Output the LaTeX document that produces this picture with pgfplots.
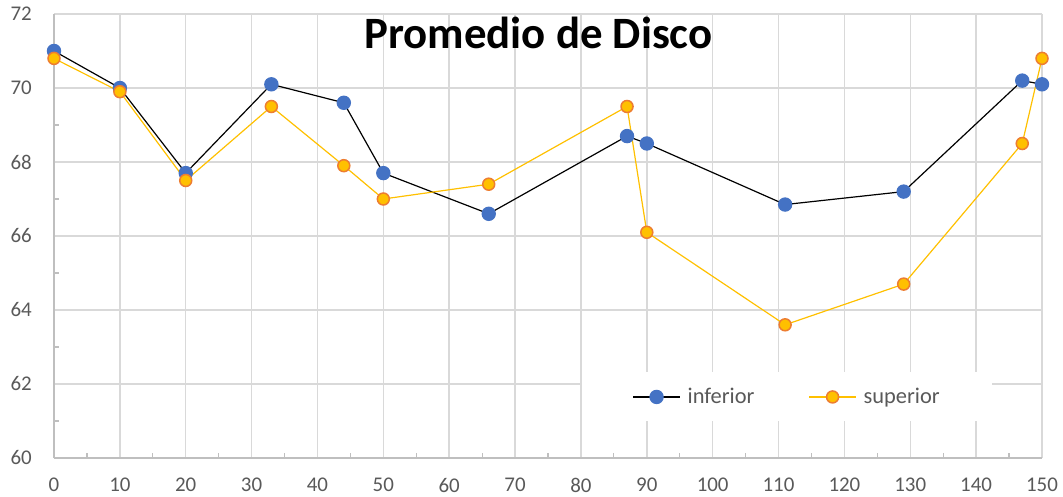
\documentclass[border=0pt]{standalone}
\usepackage{fontspec}
\setmainfont{Carlito}
\usepackage{pgfplots}
\pgfplotsset{compat=1.18}
\definecolor{blueM}{HTML}{4472C4}
\definecolor{goldL}{HTML}{FFC000}
\definecolor{orangeE}{HTML}{ED7D31}
\definecolor{gridc}{HTML}{D9D9D9}
\definecolor{axc}{HTML}{BFBFBF}
\definecolor{txt}{HTML}{595959}
\begin{document}
\begin{tikzpicture}
\begin{axis}[name=ax, at={(0,0)}, anchor=south west,
 scale only axis, width=988bp, height=444bp,
 xmin=0,xmax=150,ymin=60,ymax=72,
 xtick={0,10,...,150}, ytick={60,62,...,72},
 minor x tick num=1, minor y tick num=1,
 grid=major, major grid style={gridc, line width=1.5bp},
 axis x line*=bottom, axis y line*=left,
 axis line style={axc, line width=1.5bp, -},
 tick align=inside, major tick length=0pt, minor tick length=5bp,
 minor tick style={axc, line width=1.2bp},
 tick label style={font=\fontsize{21}{24}\selectfont, text=txt},
 /pgf/number format/assume math mode=true,
 xticklabel style={inner sep=0pt, yshift=-20bp},
 yticklabel style={inner sep=0pt, xshift=-22bp},
 every axis title shift=0pt,
 title={Promedio de Disco},
 title style={at={(0.4904,0.9234)}, anchor=base, font=\fontsize{45}{50}\selectfont\bfseries, inner sep=0pt},
 legend columns=2,
 legend style={at={(axis cs:111.3,61.65)}, anchor=center, draw=none, fill=white,
   font=\fontsize{22.5}{26}\selectfont, text=txt, inner xsep=50bp, inner ysep=14bp,
   /tikz/every odd column/.append style={column sep=5bp},
   /tikz/every even column/.append style={column sep=52bp}},
 legend image code/.code={\draw[mark repeat=2, mark phase=2] plot coordinates {(0bp,0bp) (23.5bp,0bp) (47bp,0bp)};},
 clip=false,
]
\addplot[black, line width=1.2bp, mark=*, mark size=6.6bp, mark options={draw=blueM, fill=blueM}] coordinates {
(0,71.0) (10,70.0) (20,67.7) (33,70.1) (44,69.6) (50,67.7) (66,66.6) (87,68.7) (90,68.5) (111,66.85) (129,67.2) (147,70.2) (150,70.1)};
\addlegendentry{inferior}
\addplot[goldL, line width=1.2bp, mark=*, mark size=6bp, mark options={draw=orangeE, fill=goldL, line width=1.5bp}] coordinates {
(0,70.8) (10,69.9) (20,67.5) (33,69.5) (44,67.9) (50,67.0) (66,67.4) (87,69.5) (90,66.1) (111,63.6) (129,64.7) (147,68.5) (150,70.8)};
\addlegendentry{superior}
\end{axis}
\pgfresetboundingbox
\path[use as bounding box] ([xshift=-54bp,yshift=-39bp]ax.south west) rectangle ([xshift=21bp,yshift=14bp]ax.north east);
\end{tikzpicture}
\end{document}
